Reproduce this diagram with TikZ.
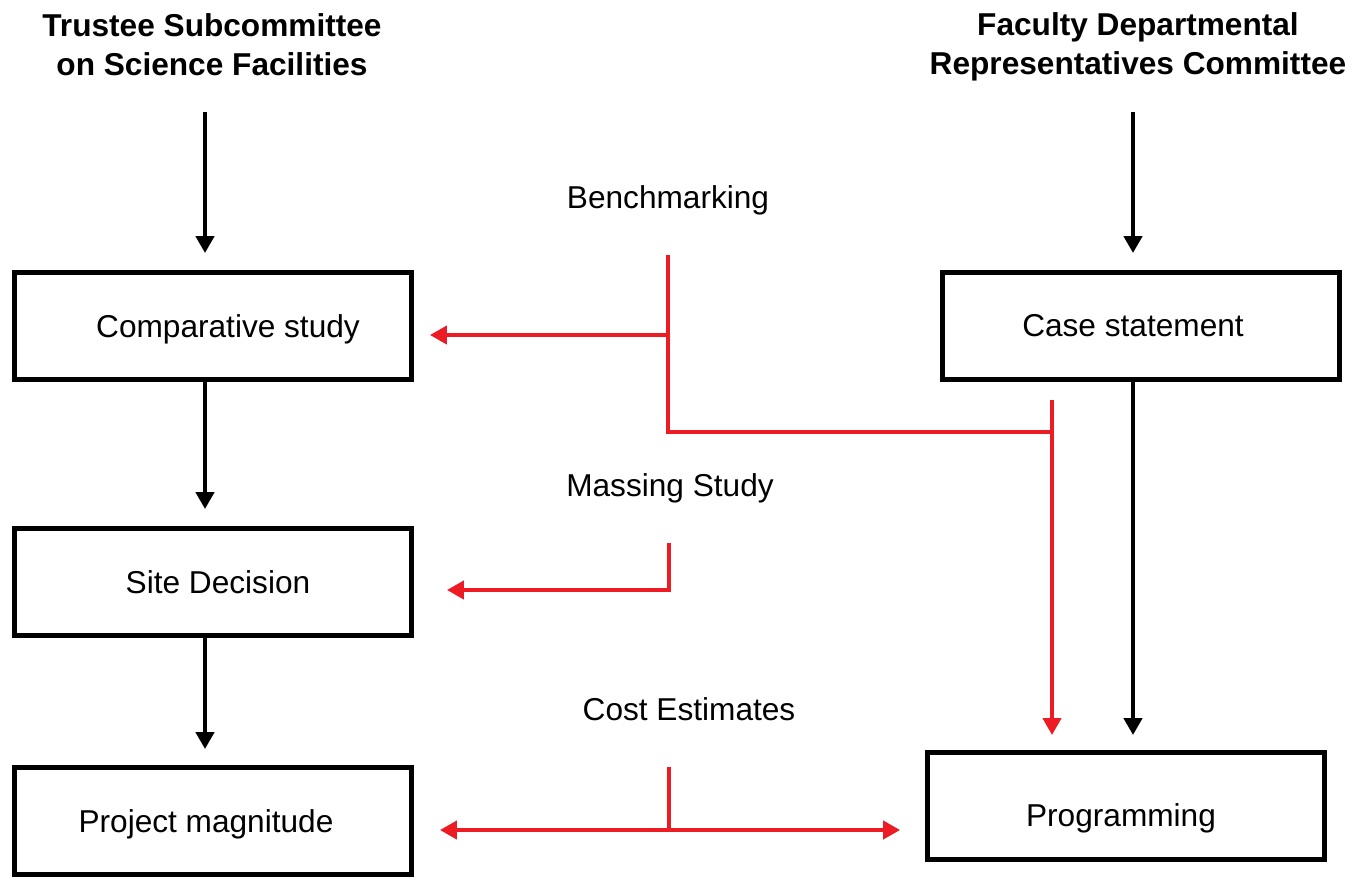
\documentclass[tikz,border=0pt]{standalone}
\usepackage{fontspec}
\setmainfont{Liberation Sans}
\usetikzlibrary{arrows.meta}
\definecolor{benchred}{RGB}{237,28,36}
\tikzset{
  box/.style={draw, line width=2.8pt, minimum width=7.94cm, minimum height=2.14cm, inner sep=0pt, font=\fontsize{18}{21.6}\selectfont},
  title/.style={align=center, font=\fontsize{18}{22}\selectfont\bfseries},
  tag/.style={font=\fontsize{18}{21.6}\selectfont},
  blackarrow/.style={line width=2.8pt, -{Triangle[length=0.34cm,width=0.36cm]}},
  redline/.style={draw=benchred, line width=2.3pt},
  redarrow/.style={redline, -{Triangle[length=0.34cm,width=0.36cm]}},
  redboth/.style={redline, {Triangle[length=0.34cm,width=0.36cm]}-{Triangle[length=0.34cm,width=0.36cm]}}
}
\begin{document}
\begin{tikzpicture}[x=0.02cm, y=-0.02cm]
\useasboundingbox (0,0) rectangle (1356,880);
% titles
\node (trustee) [title] at (212,45) {Trustee Subcommittee\\on Science Facilities};
\node (faculty) [title] at (1138,47) {Faculty Departmental\\Representatives Committee};
% boxes
\node (comp) [box] at (213,326) {\raisebox{-0.22cm}[0pt][0pt]{\kern0.6cm Comparative study}};
\node (site) [box] at (213,582) {\kern0.2cm Site Decision};
\node (proj) [box] at (213,821) {\raisebox{-0.22cm}[0pt][0pt]{Project magnitude\kern0.28cm}};
\node (case) [box] at (1141,326) {Case statement\kern0.32cm};
\node (prog) [box] at (1126,806) {\raisebox{-0.4cm}[0pt][0pt]{Programming\kern0.2cm}};
% middle labels
\node (bench) [tag] at (668,200) {Benchmarking};
\node (massing) [tag] at (670,488) {Massing Study};
\node (cost) [tag] at (689,709) {Cost Estimates};
% black arrows
\coordinate (ta) at (205,112);
\coordinate (fa) at (1133,112);
\draw [blackarrow, shorten >=0.34cm] (ta) -- (ta |- comp.north);
\draw [blackarrow, shorten >=0.34cm] (comp.south -| ta) -- (site.north -| ta);
\draw [blackarrow, shorten >=0.32cm] (site.south -| ta) -- (proj.north -| ta);
\draw [blackarrow, shorten >=0.34cm] (fa) -- (fa |- case.north);
\draw [blackarrow, shorten >=0.3cm] (case.south -| fa) -- (prog.north -| fa);
% red connectors
\coordinate (b1) at (668,255);
\coordinate (b2) at (668,432);
\coordinate (b3) at (1052,432);
\coordinate (b4) at (1052,400);
\draw [redline] (b1) -- (b2) -- (b3);
\draw [redarrow, shorten >=0.32cm] (b1 |- 0,335) -- (comp.east |- 0,335);
\draw [redarrow, shorten >=0.3cm] (b4) -- (b4 |- prog.north);
\coordinate (m1) at (669,543);
\coordinate (m2) at (669,590);
\draw [redarrow, shorten >=0.66cm] (m1) -- (m2) -- (m2 -| site.east);
\coordinate (c1) at (669,767);
\coordinate (c2) at (669,830);
\draw [redline] (c1) -- (c2);
\draw [redboth, shorten <=0.52cm, shorten >=0.5cm] (c2 -| proj.east) -- (c2 -| prog.west);
\end{tikzpicture}
\end{document}
